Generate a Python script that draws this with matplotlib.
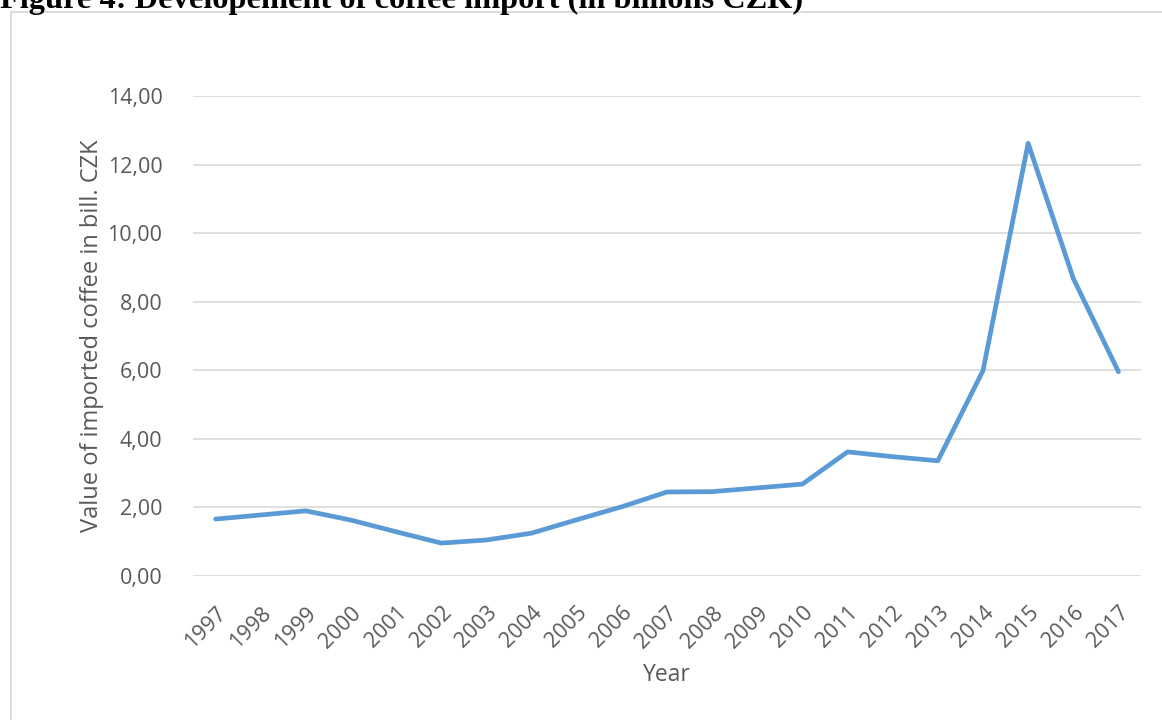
import numpy as np
import matplotlib
matplotlib.use("Agg")
import matplotlib.pyplot as plt
import matplotlib.patches as patches

years = [str(y) for y in range(1997, 2018)]
values = [1.66, 1.78, 1.90, 1.63, 1.29, 0.96, 1.05, 1.25, 1.64, 2.02, 2.45,
          2.46, 2.57, 2.68, 3.62, 3.48, 3.36, 5.99, 12.62, 8.68, 5.96]
yticks = [0, 2, 4, 6, 8, 10, 12, 14]

title = "Figure 4: Developement of coffee import (in billions CZK)"
ylabel = "Value of imported coffee in bill. CZK"
xlabel = "Year"

grey = "#595959"
plt.rcParams['font.family'] = ['Open Sans', 'DejaVu Sans']

fig = plt.figure(figsize=(11.62, 7.2), dpi=100)

# chart area border (light grey, runs off the right/bottom edge)
border = patches.Rectangle((11 / 1162, -0.05), 1.1, 0.983 + 0.05,
                           transform=fig.transFigure, fill=False,
                           edgecolor="#D9D9D9", linewidth=1.3)
fig.add_artist(border)

# title is cropped at the top in the source image
fig.text(0.0, 1 - 8 / 720, title, family="Liberation Serif", weight="bold",
         fontsize=23.3, ha="left", va="baseline")

ax = fig.add_axes([193 / 1162, 0.2, (1141 - 193) / 1162, 0.8667 - 0.2])
x = np.arange(len(years))
ax.plot(x, values, color="#5B9BD5", linewidth=3.4, solid_joinstyle="round",
        solid_capstyle="round", zorder=3)

ax.set_xlim(-0.5, len(years) - 0.5)
ax.set_ylim(0, 14)
ax.set_yticks(yticks)
ax.set_yticklabels([f"{v:.2f}".replace(".", ",") for v in yticks],
                   fontsize=15.5, color=grey)
ax.set_xticks(x)
ax.set_xticklabels(years, rotation=45, ha="right", rotation_mode="anchor",
                   fontsize=15.5, color=grey)
ax.tick_params(axis="both", length=0)
ax.tick_params(axis="y", pad=22)
ax.tick_params(axis="x", pad=19)
ax.grid(axis="y", color="#D9D9D9", linewidth=1.2)
ax.set_axisbelow(True)
for s in ax.spines.values():
    s.set_visible(False)

ax.set_ylabel(ylabel, fontsize=17, color=grey)
ax.yaxis.set_label_coords(-(193 - 104) / 948, 0.5)
ax.set_xlabel(xlabel, fontsize=16.5, color=grey)
ax.xaxis.set_label_coords((667 - 193) / 948, -(663 - 576) / 480)

fig.savefig("out.png", dpi=100)
